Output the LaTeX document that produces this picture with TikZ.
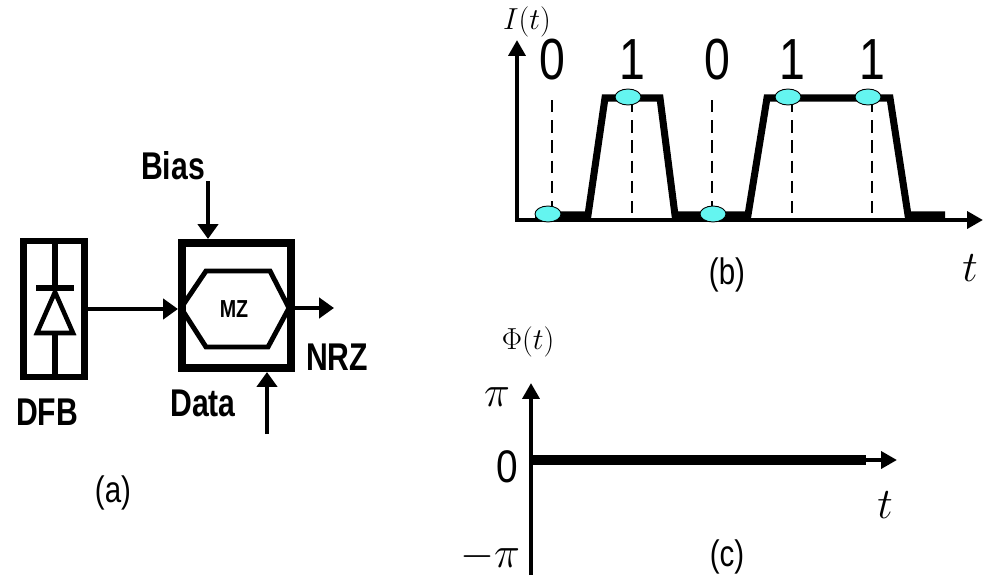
\documentclass[tikz,border=0pt]{standalone}
\usepackage{fontspec}
\setmainfont{Liberation Sans}
\usetikzlibrary{arrows.meta,positioning,shapes.geometric}
\definecolor{dotcyan}{RGB}{100,245,240}

\begin{document}
\begin{tikzpicture}[x=0.02cm,y=-0.02cm,
  box/.style={draw,line width=#1,inner sep=0pt},
  sig/.style={line width=2.8pt,-{Triangle[length=8.5pt,width=11.5pt]}},
  axis/.style={line width=2.6pt,-{Triangle[length=9pt,width=9.5pt]}},
  wave/.style={line width=4pt},
  guide/.style={line width=1.1pt,dash pattern=on 7pt off 4.5pt},
  blk/.style={font=\bfseries\fontsize{22}{22}\selectfont,xscale=0.78},
  bitlbl/.style={font=\fontsize{33}{33}\selectfont,xscale=0.8},
  sub/.style={font=\fontsize{21}{21}\selectfont,xscale=0.8},
  sample/.style={ellipse,draw,line width=0.5pt,fill=dotcyan,minimum width=0.52cm,minimum height=0.32cm,inner sep=0pt}]
\useasboundingbox (0,0) rectangle (984,575);
% (a) transmitter
\node[box=3.8pt,minimum width=1.22cm,minimum height=2.72cm] (dfb) at (54,309) {};
\draw[line width=3.8pt] (55,241) -- (55,288) (36,288) -- (74,288) (55,333) -- (55,377);
\draw[line width=2.6pt] (55,292) -- (73,333) -- (37,333) -- cycle;
\node[box=4.6pt,minimum width=2.18cm,minimum height=2.5cm] (mz) at (236.5,305.5) {};
\draw[line width=2.8pt] (181,308) -- (206,271) -- (270,271) -- (289,308) -- (268,347) -- (206,347) -- cycle;
\node[font=\bfseries\fontsize{14}{14}\selectfont,xscale=0.8] (mzlbl) at (234,309) {MZ};
\draw[sig] (dfb.east) -- (dfb.east -| mz.west);
\coordinate (nrzend) at (334,308);
\draw[sig] (289,308) -- (nrzend);
\node[blk] (bias) at (173,166) {Bias};
\coordinate (biastop) at (208,181);
\draw[sig] (biastop) -- (biastop |- mz.north);
\node[blk] (data) at (203,403) {Data};
\coordinate (databot) at (267,434);
\draw[sig] (databot) -- (databot |- mz.south);
\node[blk] (nrz) at (337,357) {NRZ};
\node[blk] (dfblbl) at (47,412) {DFB};
\node[sub] (capa) at (113,493) {(a)};
% (b) intensity
\coordinate (ob) at (517,220);
\coordinate (ybtip) at (517,40);
\coordinate (xbtip) at (983,220);
\draw[line width=2.6pt,{Triangle[length=9pt,width=9.5pt]}-{Triangle[length=9pt,width=9.5pt]}] (ybtip) -- (ob) -- (xbtip);
\foreach \x in {552,632,712,792,872}
  \draw[guide] (\x,100) -- (\x,218);
\draw[wave] (535,215) -- (588,215) -- (605,98) -- (660,98) -- (675,215) -- (748,215)
  -- (767,98) -- (890,98) -- (908,215) -- (945,215);
\foreach \x/\y/\b [count=\i] in {548/214/0,628/97/1,713/214/0,788/97/1,868/97/1}{
  \node[sample] (s\i) at (\x,\y) {};
  \node[bitlbl] (b\i) at (\x+4,60) {\b};
}
\node[font=\fontsize{17}{17}\selectfont] (ilbl) at (527,22) {$I(t)$};
\node[font=\fontsize{34}{34}\selectfont] (tb) at (970,268) {$t$};
\node[sub] (capb) at (727,275) {(b)};
% (c) phase
\coordinate (oc) at (531,460);
\coordinate (yctip) at (531,383);
\coordinate (ycbot) at (531,575);
\coordinate (xctip) at (897,460);
\draw[axis] (ycbot) -- (yctip);
\draw[axis] (oc) -- (xctip);
\draw[line width=5.6pt] (533,460) -- (866,460);
\node[font=\fontsize{16}{16}\selectfont] (philbl) at (528,342) {$\Phi(t)$};
\node[font=\fontsize{24}{24}\selectfont] (pip) at (497,397) {$\pi$};
\node[font=\fontsize{26}{26}\selectfont,xscale=0.85] (zero) at (507,467) {0};
\node[font=\fontsize{24}{24}\selectfont] (pim) at (490,557) {$-\pi$};
\node[font=\fontsize{34}{34}\selectfont] (tc) at (885,505) {$t$};
\node[sub] (capc) at (727,557) {(c)};
\end{tikzpicture}
\end{document}
